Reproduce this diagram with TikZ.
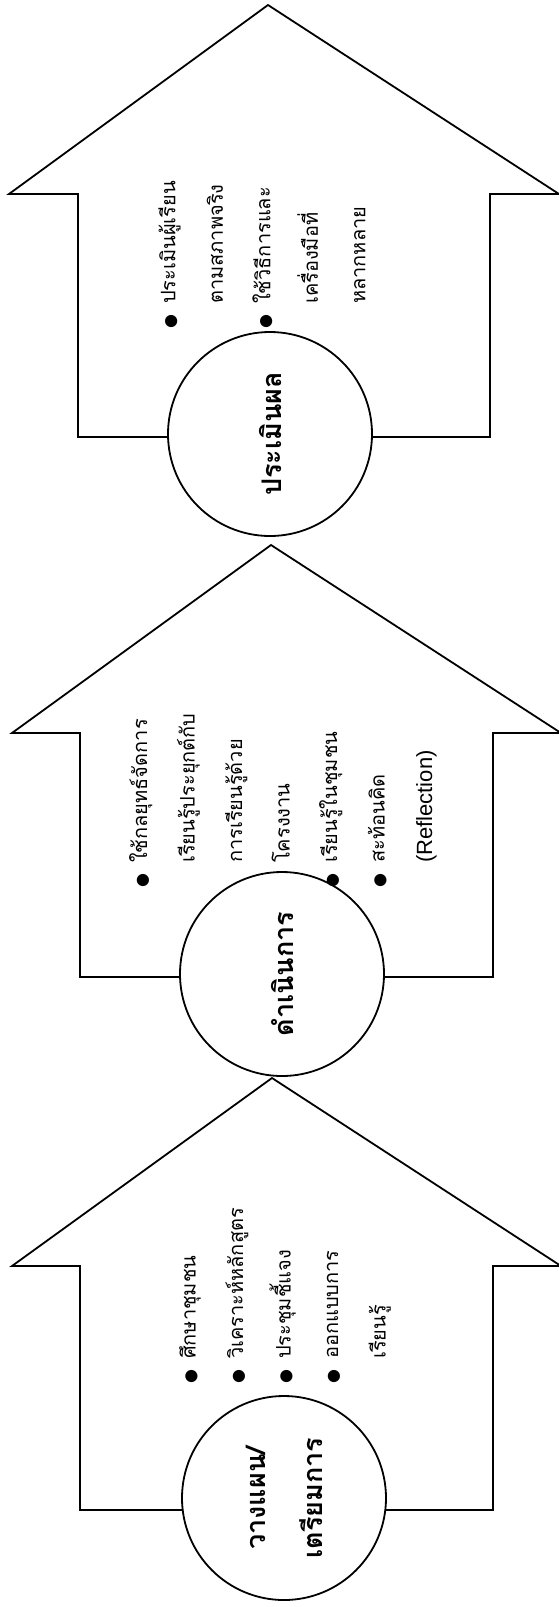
\documentclass[tikz,border=0pt]{standalone}
\usepackage{fontspec}
\newfontfamily\thaifont[Script=Thai]{Loma}
\newfontfamily\latinfont{Liberation Sans}
\newfontfamily\symfont{DejaVu Sans}
\usetikzlibrary{positioning}

% bullet and hanging indent for the lists
\newcommand{\bul}{\makebox[25pt][l]{\symfont\fontsize{16}{16}\selectfont ●}}
\newcommand{\ind}{\hspace*{25pt}}

\tikzset{
  house/.style={draw=black, line width=1.8pt, line join=miter},
  stagecircle/.style={circle, draw=black, line width=1.8pt, fill=white, minimum size=204pt, inner sep=0pt, rotate=90, align=center, font=\thaifont\bfseries\fontsize{27}{57}\selectfont},
  itemlist/.style={rotate=90, anchor=west, align=left, inner sep=0pt, font=\thaifont\fontsize{20}{47.5}\selectfont}
}

\begin{document}
\begin{tikzpicture}[x=1pt,y=-1pt]
\useasboundingbox (0,0) rectangle (558,1607);
% arrows
\draw[house] (78,437) -- (78,194) -- (9,194) -- (268,5) -- (559,194) -- (490,194) -- (490,437) -- cycle;
\draw[house] (80,977) -- (80,733) -- (12,733) -- (271,545) -- (561,733) -- (493,733) -- (493,977) -- cycle;
\draw[house] (80,1510) -- (80,1266) -- (12,1266) -- (272,1078) -- (561,1266) -- (493,1266) -- (493,1510) -- cycle;
% stages
\node[stagecircle] (evaluate) at (270,434) {ประเมินผล};
\node[stagecircle] (operate) at (282,974) {ดำเนินการ};
\node[stagecircle] (plan) at (284,1498) {วางแผน/\\เตรียมการ};
% lists
\node[itemlist] (evallist) at (262,329) {\bul ประเมินผู้เรียน\\ \ind ตามสภาพจริง\\ \bul ใช้วิธีการและ\\ \ind เครื่องมือที่\\ \ind หลากหลาย};
\node[itemlist] (oplist) at (283,888) {\bul ใช้กลยุทธ์จัดการ\\ \ind เรียนรู้ประยุกต์กับ\\ \ind การเรียนรู้ด้วย\\ \ind โครงงาน\\ \bul เรียนรู้ในชุมชน\\ \bul สะท้อนคิด\\ \ind {\latinfont\fontsize{22}{47.5}\selectfont (Reflection)}};
\node[itemlist] (planlist) at (285,1384) {\bul ศึกษาชุมชน\\ \bul วิเคราะห์หลักสูตร\\ \bul ประชุมชี้แจง\\ \bul ออกแบบการ\\ \ind เรียนรู้};
\end{tikzpicture}
\end{document}
